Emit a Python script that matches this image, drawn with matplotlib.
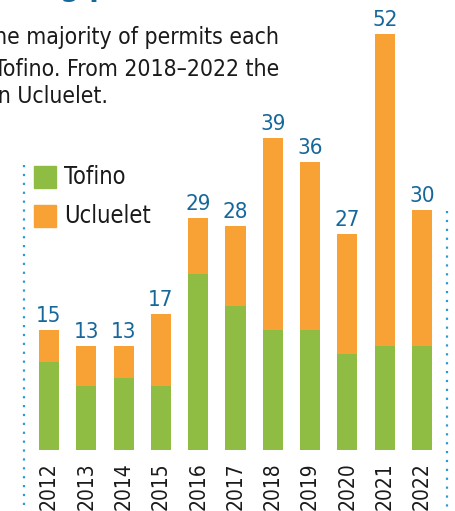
import matplotlib
matplotlib.use("Agg")
import matplotlib.pyplot as plt
from matplotlib import font_manager
from matplotlib.lines import Line2D

years = ['2012', '2013', '2014', '2015', '2016', '2017',
         '2018', '2019', '2020', '2021', '2022']
tofino = [11, 8, 9, 8, 22, 18, 15, 15, 12, 13, 13]
ucluelet = [4, 5, 4, 9, 7, 10, 24, 21, 15, 39, 17]
totals = [t + u for t, u in zip(tofino, ucluelet)]

GREEN = '#8fbd43'
ORANGE = '#f8a135'
BLUE = '#16679a'
DOTS = '#2a9bd2'
W, H = 456, 511


def pick_font(bold=False):
    # narrow faces first, plain DejaVu as last resort
    wanted = ['LiberationSansNarrow-Bold', 'DejaVuSansCondensed-Bold'] if bold else \
             ['LiberationSansNarrow-Regular', 'DejaVuSansCondensed.ttf']
    files = [f.fname for f in font_manager.fontManager.ttflist]
    for w in wanted:
        for f in files:
            if w in f:
                return f
    return None


REG = pick_font()
BOLD = pick_font(bold=True)


def fp(size, bold=False):
    path = BOLD if bold else REG
    if path:
        return font_manager.FontProperties(fname=path, size=size)
    return font_manager.FontProperties(size=size, weight='bold' if bold else 'normal')


def fx(px):
    return px / W


def fy(py):
    return 1 - py / H


fig = plt.figure(figsize=(W / 100, H / 100), dpi=100)

# axes spans full width; bars start at y=450 px, 8 px per permit
ax = fig.add_axes([0, fy(450), 1, 448 / H])
ax.set_xlim(-49 / 37.3, (W - 49) / 37.3)
ax.set_ylim(0, 56)
ax.axis('off')

x = list(range(len(years)))
ax.bar(x, tofino, width=0.54, color=GREEN)
ax.bar(x, ucluelet, bottom=tofino, width=0.54, color=ORANGE)

for i, tot in enumerate(totals):
    ax.annotate(str(tot), (i, tot), xytext=(0, 3), textcoords='offset points',
                ha='center', va='bottom', color=BLUE, fontproperties=fp(16))

for i, yr in enumerate(years):
    ax.text(i, -1.55, yr, rotation=90, ha='center', va='top',
            color='#1a1a1a', fontproperties=fp(15))

# legend
fig.patches.append(plt.Rectangle((fx(34), fy(188)), 22 / W, 22 / H,
                                 transform=fig.transFigure, color=GREEN))
fig.patches.append(plt.Rectangle((fx(34), fy(227)), 22 / W, 22 / H,
                                 transform=fig.transFigure, color=ORANGE))
fig.text(fx(64), fy(184), 'Tofino', color='#1a1a1a', fontproperties=fp(17))
fig.text(fx(64), fy(223), 'Ucluelet', color='#1a1a1a', fontproperties=fp(17))

# dotted frame lines
fig.add_artist(Line2D([fx(24), fx(24)], [fy(165), 0], transform=fig.transFigure,
                      color=DOTS, lw=1.6, linestyle=(0, (1, 3))))
fig.add_artist(Line2D([fx(447), fx(447)], [fy(211), 0], transform=fig.transFigure,
                      color=DOTS, lw=1.6, linestyle=(0, (1, 3))))

# body text above the chart
body = [('the majority of permits each', 279, 44),
        ('Tofino. From 2018\u20132022 the', 279, 76),
        ('in Ucluelet.', 108, 103)]
for txt, right, base in body:
    fig.text(fx(right), fy(base), txt, ha='right', va='baseline',
             color='#1a1a1a', fontproperties=fp(16.5))

# heading sits mostly above the top edge
fig.text(fx(-47), fy(-4), 'Building permits', ha='left', va='baseline',
         color=BLUE, fontproperties=fp(22, bold=True))

fig.savefig('out.png', dpi=100)
